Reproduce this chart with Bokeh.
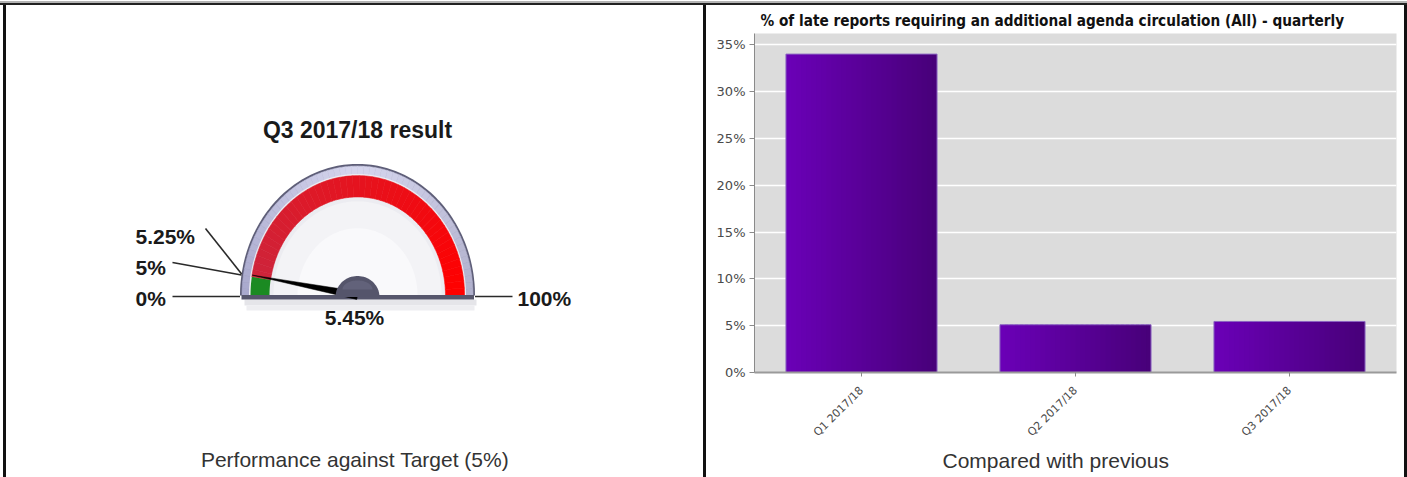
import numpy as np
from bokeh.plotting import figure
from bokeh.models import (Range1d, Title, Div, FixedTicker, PrintfTickFormatter,
                          FactorRange, ColumnDataSource, LinearAxis)
from bokeh.layouts import row, column
from bokeh.transform import dodge
from bokeh.core.properties import value
from bokeh.embed import file_html
from bokeh.resources import INLINE

# ---------------- data ----------------
gauge_title = "Q3 2017/18 result"
gauge_min = 0
gauge_max = 100
gauge_green_to = 5          # target band 0..5 %
gauge_label_values = [0, 5, 5.25, 100]
gauge_result = 5.45
caption_left = "Performance against Target (5%)"

quarters = ["Q1 2017/18", "Q2 2017/18", "Q3 2017/18"]
late_pct = [34.0, 5.1, 5.45]
y_ticks = [0, 5, 10, 15, 20, 25, 30, 35]
bar_title = "% of late reports requiring an additional agenda circulation (All) - quarterly"
caption_right = "Compared with previous"

# ---------------- helpers ----------------
CX, CY, SY = 357.0, 295.0, 1.12


def theta(v):
    return np.pi * (1 - (np.asarray(v, dtype=float) - gauge_min) / (gauge_max - gauge_min))


def pt(v, r):
    t = theta(v)
    return CX + r * np.cos(t), CY - r * np.sin(t) * SY


def band(v0, v1, r_in, r_out, n=40):
    vs = np.linspace(v0, v1, n)
    t = theta(vs)
    xo = CX + r_out * np.cos(t)
    yo = CY - r_out * np.sin(t) * SY
    if r_in > 0:
        xi = CX + r_in * np.cos(t[::-1])
        yi = CY - r_in * np.sin(t[::-1]) * SY
    else:
        xi, yi = np.array([CX]), np.array([CY])
    return list(np.concatenate([xo, xi])), list(np.concatenate([yo, yi]))


def mix(c0, c1, f):
    return "#%02x%02x%02x" % tuple(int(round(a + (b - a) * f)) for a, b in zip(c0, c1))


TOP_B, BOT_B = 28, 105   # shared top / bottom borders of both panels (page y 33 .. 372)

# ---------------- left panel: gauge ----------------
p1 = figure(width=697, height=472, x_range=Range1d(6, 703), y_range=Range1d(372, 33),
            min_border_left=0, min_border_right=0, min_border_top=TOP_B, min_border_bottom=BOT_B,
            output_backend="svg", toolbar_location=None,
            x_axis_location=None, y_axis_location=None, outline_line_color=None,
            background_fill_color="white", border_fill_color="white")
p1.grid.visible = False

# soft shadow under the gauge
p1.quad(left=[244], right=[476], top=[299], bottom=[305], fill_color="#dedee4", line_color=None, fill_alpha=0.8)
p1.quad(left=[246], right=[474], top=[305], bottom=[310], fill_color="#eeeef1", line_color=None)

# bezel outline + bezel ring (gradient by angle)
xs, ys = band(gauge_min, gauge_max, 0, 117.5, n=120)
p1.patch(xs, ys, fill_color="#5e5e78", line_color=None)
nseg = 60
edges = np.linspace(gauge_min, gauge_max, nseg + 1)
bx, by, bc = [], [], []
for i in range(nseg):
    x_, y_ = band(edges[i], edges[i + 1], 0, 115.5, n=4)
    bx.append(x_); by.append(y_)
    f = (edges[i] + edges[i + 1]) / 2 / gauge_max
    if f < 0.5:
        bc.append(mix((168, 168, 204), (214, 214, 238), f / 0.5))
    else:
        bc.append(mix((214, 214, 238), (176, 176, 204), (f - 0.5) / 0.5))
p1.patches(bx, by, fill_color=bc, line_color=bc, line_width=0.6)

# face
xs, ys = band(gauge_min, gauge_max, 0, 108.5, n=120)
p1.patch(xs, ys, fill_color="#ececf1", line_color=None)
xs, ys = band(gauge_min, gauge_max, 0, 84, n=120)
p1.patch(xs, ys, fill_color="#f3f3f6", line_color=None)
xs, ys = band(gauge_min, gauge_max, 0, 60, n=120)
p1.patch(xs, ys, fill_color="#f9f9fb", line_color=None)

# red band with gradient
nred = 48
redges = np.linspace(gauge_green_to, gauge_max, nred + 1)
rx, ry, rc = [], [], []
for i in range(nred):
    x_, y_ = band(redges[i], redges[i + 1], 88, 107, n=4)
    rx.append(x_); ry.append(y_)
    f = i / (nred - 1)
    rc.append(mix((206, 36, 58), (255, 0, 0), f))
p1.patches(rx, ry, fill_color=rc, line_color=rc, line_width=0.6)

# green band
xs, ys = band(gauge_min, gauge_green_to, 88, 107, n=10)
p1.patch(xs, ys, fill_color="#1b8a22", line_color=None)

# base
p1.quad(left=[CX - 116], right=[CX + 116.5], top=[294.5], bottom=[299], fill_color="#56566c", line_color=None)

# needle
tx, ty = pt(gauge_result, 107)
dx, dy = tx - CX, ty - CY
ln = np.hypot(dx, dy)
px, py = -dy / ln, dx / ln
hw = 4.0
p1.patch([CX + px * hw, tx, CX - px * hw], [CY + py * hw, ty, CY - py * hw],
         fill_color="black", line_color="black", line_width=0.5)

# hub
hth = np.linspace(0, np.pi, 40)
p1.patch(list(CX + 22 * np.cos(hth)), list(CY + 1.5 - 21 * np.sin(hth)), fill_color="#55556b", line_color=None)
p1.patch(list(CX + 15 * np.cos(hth)), list(CY - 6 - 9 * np.sin(hth)), fill_color="#62627a", line_color=None)

# leader lines and labels
lab_x = [135, 135, 135, 517]
lab_y = [298, 267, 236, 298]
line_start = [(172, 296), (172, 262), (205, 228), (512, 296)]
lxs, lys = [], []
for v, (sx0, sy0) in zip(gauge_label_values, line_start):
    ex, ey = pt(v, 117.5)
    if v == gauge_min or v == gauge_max:
        ey = 296
    lxs.append([sx0, float(ex)]); lys.append([sy0, float(ey)])
p1.multi_line(lxs, lys, line_color="#2a2a2a", line_width=1.6)

p1.text(x=lab_x, y=lab_y, text=[f"{v:g}%" for v in gauge_label_values],
        text_font=value("Liberation Sans"), text_font_size="21px", text_font_style="bold",
        text_align="left", text_baseline="middle", text_color="#1a1a1a")
p1.text(x=[354], y=[317], text=[f"{gauge_result:g}%"],
        text_font=value("Liberation Sans"), text_font_size="21px", text_font_style="bold",
        text_align="center", text_baseline="middle", text_color="#1a1a1a")
p1.text(x=[357], y=[129], text=[gauge_title],
        text_font=value("Liberation Sans"), text_font_size="23px", text_font_style="bold",
        text_align="center", text_baseline="middle", text_color="#1a1a1a")

# caption of the left panel: label of an otherwise invisible bottom axis
cap_axis = LinearAxis(ticker=FixedTicker(ticks=[]), axis_label=caption_left,
                      axis_line_color=None, major_tick_line_color=None, minor_tick_line_color=None,
                      major_tick_out=0, major_tick_in=0, minor_tick_out=0, major_label_standoff=0,
                      axis_label_standoff=75, axis_label_text_font="Liberation Sans",
                      axis_label_text_font_size="21px", axis_label_text_font_style="normal",
                      axis_label_text_color="#333333")
p1.add_layout(cap_axis, "below")

# ---------------- right panel: bars ----------------
src = ColumnDataSource(dict(q=quarters, v=late_pct))
p2 = figure(width=698, height=472, x_range=FactorRange(factors=quarters, range_padding=0),
            y_range=Range1d(0, 36.2), min_border_left=48, min_border_right=8,
            min_border_top=TOP_B, min_border_bottom=BOT_B, output_backend="svg",
            toolbar_location=None, background_fill_color="#dcdcdc",
            border_fill_color="white", outline_line_color=None, title=bar_title)
p2.title.align = "left"
p2.title.offset = 6
p2.title.text_font = "DejaVu Sans Condensed"
p2.title.text_font_size = "15.2px"
p2.title.text_font_style = "bold"
p2.title.text_color = "#111111"
p2.title.standoff = 7

bw = 0.706
nsl = 30
sw = bw / nsl
for i in range(nsl):
    off = -bw / 2 + (i + 0.5) * sw
    c = mix((106, 0, 182), (72, 0, 122), i / (nsl - 1))
    w = sw * 1.6 if i < nsl - 1 else sw
    off2 = off + (w - sw) / 2 if i < nsl - 1 else off
    p2.vbar(x=dodge("q", off2, range=p2.x_range), top="v", width=w, source=src,
            fill_color=c, line_color=None)
p2.vbar(x="q", top="v", width=bw, source=src, fill_color=None, line_color="#8c66c2", line_width=1)

p2.xgrid.grid_line_color = None
p2.ygrid.ticker = FixedTicker(ticks=y_ticks)
p2.ygrid.grid_line_color = "white"
p2.ygrid.grid_line_width = 1.6

p2.yaxis.ticker = FixedTicker(ticks=y_ticks)
p2.yaxis.formatter = PrintfTickFormatter(format="%d%%")
p2.yaxis.major_label_text_font = "DejaVu Sans"
p2.yaxis.major_label_text_font_size = "13px"
p2.yaxis.major_label_text_color = "#4a4a4a"
p2.yaxis.axis_line_color = "#8a8a8a"
p2.yaxis.major_tick_line_color = "#8a8a8a"
p2.yaxis.major_tick_out = 5
p2.yaxis.major_tick_in = 0
p2.yaxis.minor_tick_line_color = None
p2.yaxis.major_label_standoff = 4

p2.xaxis.major_label_orientation = np.pi / 4
p2.xaxis.major_label_text_font = "DejaVu Sans"
p2.xaxis.major_label_text_font_size = "11px"
p2.xaxis.major_label_text_color = "#4a4a4a"
p2.xaxis.axis_line_color = "#9a9a9a"
p2.xaxis.axis_line_width = 2
p2.xaxis.major_tick_line_color = "#8a8a8a"
p2.xaxis.major_tick_out = 4
p2.xaxis.major_tick_in = 0
p2.xaxis.major_label_standoff = 12

p2.add_layout(Title(text=caption_right, align="left", offset=188, vertical_align="bottom",
                    text_font="Liberation Sans", text_font_size="21px", text_font_style="normal",
                    text_color="#333333", standoff=1), "below")

# ---------------- frame / borders ----------------
top = Div(text="", width=1407, height=5, margin=0, styles={
    "background": "linear-gradient(to bottom, #ffffff 0px, #ffffff 1px, #b4b4b4 1px, #b4b4b4 3px, #222222 3px, #222222 5px)"})


def vbar_div(color, w=3):
    return Div(text="", width=w, height=472, margin=0, styles={"background-color": color})


layout = column(top, row(vbar_div("#ffffff"), vbar_div("#111111"), p1, vbar_div("#111111"), p2,
                         vbar_div("#111111"), spacing=0), spacing=0)

open("out.html", "w").write(file_html(layout, INLINE))
